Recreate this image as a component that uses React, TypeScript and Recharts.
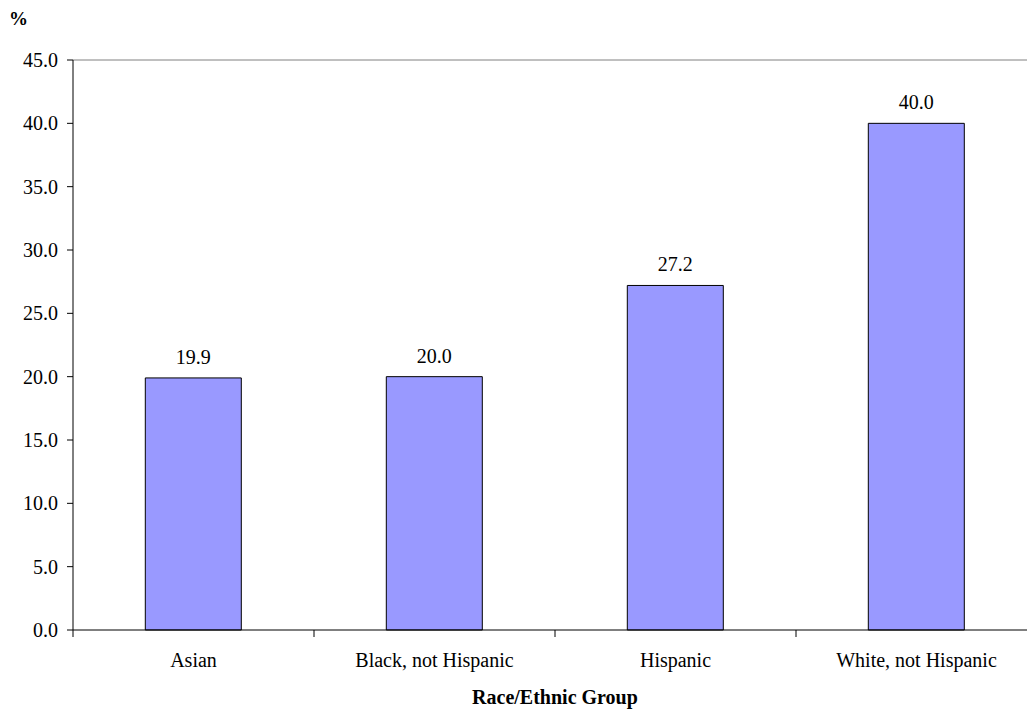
import { BarChart, Bar, XAxis, YAxis, ReferenceLine, LabelList } from "recharts";

// Share of each group, in percent
const groups = ["Asian", "Black, not Hispanic", "Hispanic", "White, not Hispanic"];
const percents = [19.9, 20.0, 27.2, 40.0];
const yTicks = [0, 5, 10, 15, 20, 25, 30, 35, 40, 45];

const data = groups.map((group, i) => ({ group, percent: percents[i] }));

const FONT =
  "'Times New Roman', Tinos, 'Liberation Serif', 'Nimbus Roman', 'Noto Serif', 'DejaVu Serif', FreeSerif, Times, serif";
const LABEL_GAP = 23;
const EDGE_TICK = 7;

// Category ticks sit on the band edges, labels in the band middle
const EdgeTick = (props: any) => {
  const { x, y, payload } = props;
  const edge = x - (payload?.offset ?? 0);
  const axisY = y - LABEL_GAP;
  return (
    <g>
      <line x1={edge} x2={edge} y1={axisY} y2={axisY + EDGE_TICK} stroke="#000" />
      <text
        x={x}
        y={y}
        dy="0.71em"
        textAnchor="middle"
        fill="#000"
        style={{ fontSize: 20, fontFamily: FONT }}
      >
        {payload.value}
      </text>
    </g>
  );
};

const PercentSign = (props: any) => {
  const vb = props.viewBox ?? { x: 0, y: 60 };
  return (
    <text
      x={vb.x + 9}
      y={vb.y - 35}
      fill="#000"
      style={{ fontSize: 19, fontWeight: "bold", fontFamily: FONT }}
    >
      %
    </text>
  );
};

export default function App() {
  return (
    <div
      style={{
        position: "absolute",
        top: 0,
        left: 0,
        width: 1027,
        height: 709,
        overflow: "hidden",
        background: "#fff",
        fontFamily: FONT,
      }}
    >
      <BarChart
        width={1045}
        height={709}
        data={data}
        margin={{ top: 60, right: 8, bottom: 0, left: 0 }}
        barCategoryGap="30%"
      >
        <ReferenceLine y={45} stroke="#808080" strokeWidth={1} ifOverflow="extendDomain" />
        <XAxis
          dataKey="group"
          height={79}
          axisLine={{ stroke: "#000" }}
          tickLine={false}
          tickSize={0}
          tickMargin={LABEL_GAP}
          tick={<EdgeTick />}
          interval={0}
          label={{
            value: "Race/Ethnic Group",
            position: "insideBottom",
            offset: 5,
            fill: "#000",
            style: { fontSize: 20, fontWeight: "bold", fontFamily: FONT },
          }}
        />
        <YAxis
          width={73}
          domain={[0, 45]}
          ticks={yTicks}
          interval={0}
          tickFormatter={(v: number) => v.toFixed(1)}
          axisLine={{ stroke: "#000" }}
          tickLine={{ stroke: "#000" }}
          tickSize={6}
          tickMargin={9}
          tick={{ fill: "#000", style: { fontSize: 20, fontFamily: FONT } }}
          label={{ content: <PercentSign /> }}
        />
        <Bar
          dataKey="percent"
          fill="#9999FF"
          stroke="#000"
          strokeWidth={1}
          isAnimationActive={false}
        >
          <LabelList
            dataKey="percent"
            position="top"
            offset={14}
            formatter={(v: any) => Number(v).toFixed(1)}
            fill="#000"
            style={{ fontSize: 20, fontFamily: FONT }}
          />
        </Bar>
      </BarChart>
    </div>
  );
}
